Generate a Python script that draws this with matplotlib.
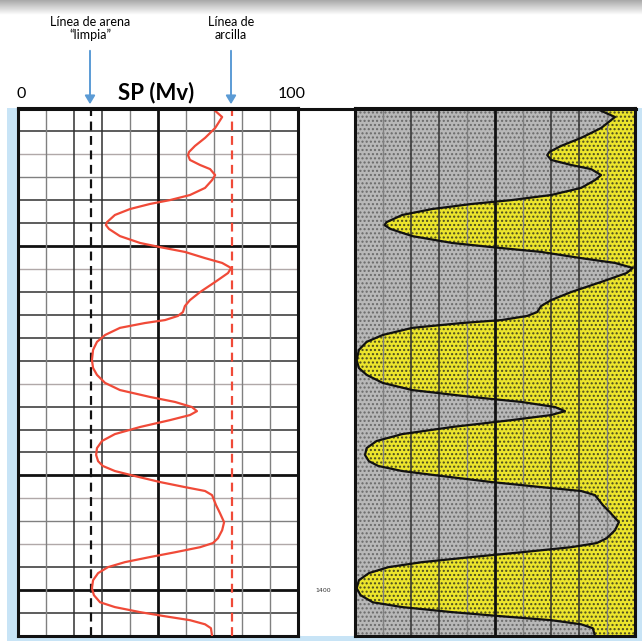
"""
plot.py - SP log with clean-sand / clay baselines and a shale-index track.
"""
import matplotlib
matplotlib.use("Agg")
import matplotlib.pyplot as plt
import matplotlib.patches as mpatches
from matplotlib.lines import Line2D
import numpy as np

# ── Data ────────────────────────────────────────────────────────────────────────
depth = [1190.0, 1193.8, 1198.6, 1202.9, 1206.4, 1209.0, 1210.4, 1212.5, 1214.7,
         1216.5, 1219.1, 1221.3, 1224.7, 1227.8, 1230.0, 1231.7, 1233.9, 1236.5,
         1239.6, 1240.9, 1242.6, 1245.7, 1248.7, 1250.5, 1252.6, 1255.3, 1257.4,
         1259.6, 1261.8, 1265.7, 1270.1, 1273.6, 1276.2, 1278.8, 1280.5, 1282.3,
         1283.6, 1285.7, 1288.8, 1291.8, 1295.3, 1299.7, 1303.2, 1306.2, 1309.7,
         1312.8, 1315.8, 1318.0, 1320.2, 1322.0, 1323.7, 1325.9, 1328.9, 1332.0,
         1335.0, 1338.1, 1341.1, 1343.8, 1345.9, 1348.1, 1350.3, 1352.9, 1355.1,
         1356.8, 1358.6, 1362.9, 1366.4, 1370.4, 1373.9, 1377.4, 1379.5, 1381.3,
         1383.5, 1385.6, 1387.8, 1390.0, 1392.6, 1395.7, 1399.2, 1402.2, 1405.3,
         1407.4, 1409.6, 1411.4, 1413.1, 1414.9, 1416.6, 1420.0]
sp = [69.3, 72.8, 70.3, 66.7, 63.1, 61.0, 60.6, 61.3, 64.9,
      68.5, 70.3, 69.2, 66.7, 61.3, 54.2, 47.0, 39.9, 34.5,
      31.7, 31.3, 32.4, 36.3, 43.5, 50.6, 59.5, 66.7, 72.8,
      76.0, 74.9, 70.3, 64.9, 61.3, 59.5, 58.8, 57.0, 52.4,
      45.2, 36.3, 31.0, 28.1, 26.7, 26.3, 26.7, 28.1, 31.0,
      36.3, 47.0, 56.0, 62.0, 63.8, 61.3, 54.2, 43.5, 34.5,
      29.9, 28.1, 27.8, 28.5, 30.2, 34.5, 41.7, 50.6, 59.5,
      66.7, 69.2, 70.6, 72.0, 73.5, 72.8, 71.3, 69.5, 64.9,
      56.0, 47.0, 38.1, 32.0, 28.5, 26.7, 26.3, 27.0, 29.2,
      34.5, 43.5, 52.4, 61.3, 66.7, 68.8, 69.2]

SAND_LINE = 26.0     # "Línea de arena limpia"
CLAY_LINE = 76.4     # "Línea de arcilla"
DEPTH_TOP, DEPTH_BOT = 1190, 1420
DEPTH_LABEL = 1400

# grid line styles: depth every 10, SP every 10
h_styles = {1200: "d", 1210: "l", 1220: "m", 1230: "d", 1240: "d", 1250: "t",
            1260: "l", 1270: "d", 1280: "d", 1290: "d", 1300: "d", 1310: "l",
            1320: "d", 1330: "d", 1340: "d", 1350: "t", 1360: "l", 1370: "m",
            1380: "l", 1390: "d", 1400: "t", 1410: "d"}
v_styles_left = {10: "m", 20: "d", 30: "d", 40: "m", 50: "t", 60: "m",
                 70: "m", 80: "m", 90: "m"}
v_styles_right = {0.1: "m", 0.2: "d", 0.3: "d", 0.4: "m", 0.5: "t", 0.6: "m",
                  0.7: "d", 0.8: "d", 0.9: "m"}
STYLE = {"l": ("#b0a8a8", 1.0), "m": ("#808080", 1.0),
         "d": ("#303030", 1.1), "t": ("#111111", 2.0)}

# ── Colours ─────────────────────────────────────────────────────────────────────
SP_CLR    = "#f04a38"
ARROW_CLR = "#5b9bd5"
STRIP_CLR = "#c8e4f6"
SHALE_CLR = "#b8b8b8"
SAND_CLR  = "#ece52c"

W, H = 642, 641
fig = plt.figure(figsize=(W / 100, H / 100), dpi=100, facecolor="white")


def fx(x):
    return x / W


def fy(y):
    return 1 - y / H


# ── Background decoration (slide shadow, light blue strips) ────────────────────
grad = fig.add_axes([0, fy(15), 1, 15 / H], zorder=0)
grad.imshow(np.linspace(0.66, 1.0, 50).reshape(-1, 1), cmap="gray",
            vmin=0, vmax=1, aspect="auto", extent=[0, 1, 0, 1])
grad.axis("off")

for x0, y0, x1, y1 in [(7, 108, 18, 641), (7, 636, 642, 641), (636, 108, 642, 641)]:
    fig.patches.append(mpatches.Rectangle((fx(x0), fy(y1)), fx(x1 - x0), (y1 - y0) / H,
                                          transform=fig.transFigure,
                                          color=STRIP_CLR, lw=0, zorder=0))

# ── Axes ───────────────────────────────────────────────────────────────────────
ax_l = fig.add_axes([fx(18.3), fy(636), fx(280), 527.7 / H], zorder=2)
ax_r = fig.add_axes([fx(355), fy(636), fx(280), 527.7 / H], zorder=2)

for ax in (ax_l, ax_r):
    ax.set_ylim(DEPTH_BOT, DEPTH_TOP)
    ax.set_xticks([])
    ax.set_yticks([])
    for spine in ax.spines.values():
        spine.set_color("#111111")
        spine.set_linewidth(2.2)

# left track: SP
ax_l.set_xlim(0, 100)
for d, s in h_styles.items():
    c, lw = STYLE[s]
    ax_l.axhline(d, color=c, linewidth=lw, zorder=1)
for v, s in v_styles_left.items():
    c, lw = STYLE[s]
    ax_l.axvline(v, color=c, linewidth=lw, zorder=1)

ax_l.axvline(SAND_LINE, color="#111111", linewidth=1.6, dashes=(4, 2.5), zorder=3)
ax_l.axvline(CLAY_LINE, color=SP_CLR, linewidth=1.6, dashes=(4, 2.5), zorder=3)
ax_l.plot(sp, depth, color=SP_CLR, linewidth=1.6, zorder=4,
          solid_joinstyle="round", solid_capstyle="round")

# right track: shale index from the SP baselines
vsh = np.clip((np.array(sp) - SAND_LINE) / (CLAY_LINE - SAND_LINE), 0, 1)
ax_r.set_xlim(0, 1)
ax_r.fill_betweenx(depth, 0, vsh, facecolor=SHALE_CLR, edgecolor="#6a6a6a",
                   hatch="....", linewidth=0, zorder=1)
ax_r.fill_betweenx(depth, vsh, 1, facecolor=SAND_CLR, edgecolor="#4a4a20",
                   hatch="....", linewidth=0, zorder=1)
for v, s in v_styles_right.items():
    c, lw = STYLE[s]
    ax_r.axvline(v, color=c, linewidth=lw, zorder=2)
ax_r.plot(vsh, depth, color="#111111", linewidth=1.6, zorder=3,
          solid_joinstyle="round")

# top line bridging both tracks
fig.lines.append(Line2D([fx(18), fx(636)], [fy(109), fy(109)], transform=fig.transFigure,
                        color="#111111", linewidth=2.2, zorder=5))

# depth label
depth_y = ax_l.transData.transform((0, DEPTH_LABEL))[1] / fig.bbox.height
fig.text(fx(323), depth_y, f"{DEPTH_LABEL}", fontsize=4.5, color="#333333",
         ha="center", va="center")

# ── Header text and arrows ─────────────────────────────────────────────────────
FONT = "Lato"
fig.text(fx(21), fy(98), "0", fontsize=11.5, family=FONT, ha="center", va="baseline")
fig.text(fx(292), fy(98), "100", fontsize=11.5, family=FONT, ha="center", va="baseline")
fig.text(fx(156), fy(99), "SP (Mv)", fontsize=16, family=FONT, fontweight="bold",
         ha="center", va="baseline")

for x, lines in [(90, ["Línea de arena", "“limpia”"]), (231, ["Línea de", "arcilla"])]:
    fig.text(fx(x), fy(26), lines[0], fontsize=9, family=FONT, ha="center", va="baseline")
    fig.text(fx(x), fy(39), lines[1], fontsize=9, family=FONT, ha="center", va="baseline")
    fig.patches.append(mpatches.FancyArrowPatch(
        (fx(x), fy(48)), (fx(x), fy(107)), transform=fig.transFigure,
        arrowstyle="-|>,head_length=5,head_width=3", color=ARROW_CLR,
        linewidth=1.4, zorder=6))

fig.savefig("out.png", dpi=100, facecolor="white")
